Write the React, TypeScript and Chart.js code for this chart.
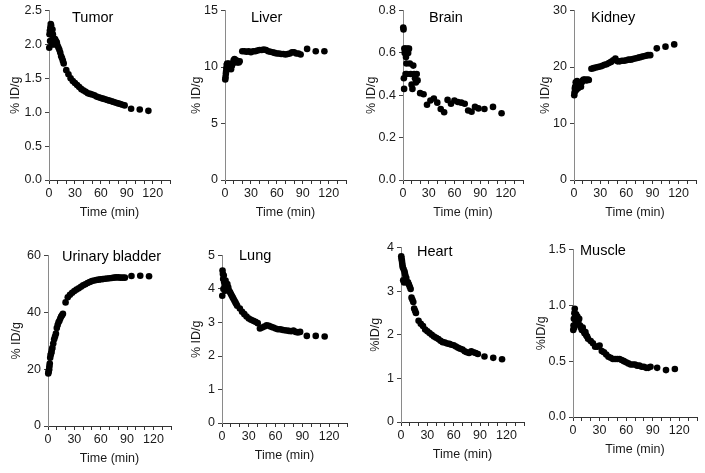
import React, { useEffect, useRef } from "react";
import { Chart, registerables } from "chart.js";

Chart.register(...registerables);

const FONT = '"Liberation Sans", Arial, Helvetica, sans-serif';

// ---------- DATA ----------
const TIME_MAIN = [
  0.3, 0.6, 1, 1.3, 1.6, 2, 2.5, 3, 3.5, 4, 4.5, 5, 6, 7, 8, 9, 10, 11, 12, 13, 14, 15, 16, 17,
  20, 22.5, 25, 27.5, 30, 32.5, 35, 37.5, 40, 42.5, 45, 47.5, 50, 52.5, 55, 57.5, 60, 62.5, 65, 67.5,
  70, 72.5, 75, 77.5, 80, 82.5, 85, 87.5,
  95, 105, 115,
];

const TIME_BRAIN = [
  0.3, 0.6, 1, 1.3, 1.6, 2, 2.5, 3, 3.5, 4, 4.5, 5, 6, 7, 8, 9, 10, 11, 12, 13, 14, 15, 16, 17,
  20, 24, 28, 32, 36, 40, 44, 48, 52, 56, 60, 64, 68, 72, 76, 80, 84, 88,
  95, 105, 115,
];

const TUMOR = [
  1.95, 2.15, 2.2, 2.05, 2.25, 2.3, 2.28, 2.2, 2.0, 2.22, 2.15, 2.1, 2.0, 2.08, 2.05, 2.03, 1.98, 1.95, 1.92, 1.88, 1.83, 1.8, 1.76, 1.72,
  1.62, 1.56, 1.5, 1.46, 1.43, 1.4, 1.37, 1.34, 1.32, 1.3, 1.28, 1.27, 1.26, 1.25, 1.23, 1.22, 1.21, 1.2, 1.19, 1.18,
  1.17, 1.16, 1.15, 1.14, 1.13, 1.12, 1.11, 1.1,
  1.05, 1.04, 1.02,
];

const LIVER = [
  8.9, 9.1, 9.4, 9.6, 9.9, 10.2, 10.3, 10.1, 9.9, 10.2, 10.3, 10.0, 9.9, 9.8, 10.1, 10.3, 10.6, 10.7, 10.5, 10.6, 10.4, 10.5, 10.4, 10.5,
  11.4, 11.4, 11.35, 11.4, 11.3, 11.4, 11.4, 11.45, 11.5, 11.5, 11.55, 11.5, 11.4, 11.35, 11.3, 11.25, 11.2, 11.2, 11.15, 11.15,
  11.1, 11.15, 11.2, 11.3, 11.3, 11.2, 11.2, 11.1,
  11.6, 11.4, 11.4,
];

const BRAIN = [
  0.72, 0.71, 0.48, 0.43, 0.62, 0.6, 0.62, 0.5, 0.58, 0.55, 0.5, 0.62, 0.6, 0.62, 0.55, 0.5, 0.45, 0.43, 0.54, 0.5, 0.48, 0.46, 0.5, 0.47,
  0.41, 0.405, 0.355, 0.375, 0.385, 0.365, 0.335, 0.32, 0.378, 0.36, 0.375, 0.368, 0.365, 0.36, 0.328, 0.322, 0.345, 0.338,
  0.335, 0.345, 0.315,
];

const KIDNEY = [
  15.0, 15.5, 16.2, 16.5, 15.8, 17.3, 16.8, 16.0, 17.5, 16.5, 17.0, 16.3, 16.8, 17.0, 16.5, 17.3, 17.6, 17.8, 17.7, 17.8, 17.6, 17.7, 17.8, 17.7,
  19.7, 19.8, 19.9, 20.0, 20.1, 20.2, 20.4, 20.5, 20.7, 20.9, 21.2, 21.5, 21.0, 21.0, 21.1, 21.1, 21.2, 21.3, 21.3, 21.4,
  21.5, 21.6, 21.7, 21.8, 21.9, 22.0, 22.1, 22.1,
  23.3, 23.6, 24.0,
];

const BLADDER = [
  18.5, 19.0, 19.5, 20.0, 21.0, 22.0, 24.0, 25.0, 25.5, 26.0, 27.0, 27.5, 29.0, 30.5, 31.5, 32.5, 34.5, 35.5, 36.5, 37.0, 37.8, 38.5, 39.0, 39.5,
  43.5, 45.3, 46.2, 46.9, 47.5, 48.0, 48.5, 49.0, 49.5, 49.9, 50.3, 50.7, 51.0, 51.2, 51.4, 51.5, 51.6, 51.7, 51.8, 51.9,
  52.0, 52.1, 52.2, 52.3, 52.3, 52.2, 52.2, 52.2,
  52.8, 52.9, 52.7,
];

const LUNG = [
  3.8, 4.55, 4.45, 4.3, 4.0, 4.4, 4.2, 4.1, 3.95, 4.25, 4.1, 4.0, 4.15, 4.05, 3.95, 3.9, 3.85, 3.8, 3.75, 3.7, 3.65, 3.6, 3.55, 3.5,
  3.42, 3.32, 3.25, 3.18, 3.12, 3.08, 3.05, 3.02, 2.98, 2.82, 2.85, 2.88, 2.92, 2.9, 2.87, 2.85, 2.82, 2.8, 2.8, 2.78,
  2.77, 2.76, 2.75, 2.74, 2.76, 2.72, 2.7, 2.72,
  2.6, 2.6, 2.58,
];

const HEART = [
  3.8, 3.75, 3.7, 3.65, 3.6, 3.55, 3.25, 3.5, 3.2, 3.45, 3.4, 3.35, 3.3, 3.2, 3.2, 3.15, 3.1, 3.05, 2.85, 2.8, 2.75, 2.6, 2.55, 2.5,
  2.32, 2.25, 2.2, 2.12, 2.08, 2.04, 2.0, 1.96, 1.93, 1.9, 1.86, 1.83, 1.82, 1.8, 1.79, 1.77, 1.76, 1.73, 1.7, 1.68,
  1.66, 1.62, 1.6, 1.58, 1.62, 1.6, 1.58, 1.56,
  1.5, 1.47, 1.44,
];

const MUSCLE = [
  0.78, 0.82, 0.88, 0.8, 0.93, 0.97, 0.9, 0.85, 0.92, 0.87, 0.83, 0.9, 0.85, 0.88, 0.82, 0.8, 0.78, 0.8, 0.77, 0.75, 0.76, 0.73, 0.72, 0.7,
  0.68, 0.66, 0.63, 0.63, 0.64, 0.59, 0.58, 0.56, 0.54, 0.53, 0.52, 0.52, 0.52, 0.52, 0.51, 0.5, 0.49, 0.48, 0.47, 0.47,
  0.47, 0.46, 0.46, 0.45, 0.45, 0.44, 0.44, 0.45,
  0.44, 0.42, 0.43,
];

const X_TICKS = [0, 10, 20, 30, 40, 50, 60, 70, 80, 90, 100, 110, 120, 130, 140];
const X_TICK_LABELS = [0, 30, 60, 90, 120];

const TUMOR_Y_TICKS = [0, 0.5, 1.0, 1.5, 2.0, 2.5];
const LIVER_Y_TICKS = [0, 5, 10, 15];
const BRAIN_Y_TICKS = [0, 0.2, 0.4, 0.6, 0.8];
const KIDNEY_Y_TICKS = [0, 10, 20, 30];
const BLADDER_Y_TICKS = [0, 20, 40, 60];
const LUNG_Y_TICKS = [0, 1, 2, 3, 4, 5];
const HEART_Y_TICKS = [0, 1, 2, 3, 4];
const MUSCLE_Y_TICKS = [0, 0.5, 1.0, 1.5];

// ---------- LAYOUT ----------
const AX_W = 45; // y-axis box width
const AX_H = 45; // x-axis box height
const PAD_T = 8;
const PAD_R = 8;

type Panel = {
  name: string;
  yTitle: string;
  xs: number[];
  ys: number[];
  yTicks: number[];
  dec: number;
  box: { l: number; t: number; r: number; b: number };
  titleDx: number;
  titleDy: number;
  yTitleDist: number;
};

const PANELS: Panel[] = [
  { name: "Tumor", yTitle: "% ID/g", xs: TIME_MAIN, ys: TUMOR, yTicks: TUMOR_Y_TICKS, dec: 1,
    box: { l: 49, t: 8, r: 170, b: 180 }, titleDx: 23, titleDy: 7, yTitleDist: 33 },
  { name: "Liver", yTitle: "% ID/g", xs: TIME_MAIN, ys: LIVER, yTicks: LIVER_Y_TICKS, dec: 0,
    box: { l: 225, t: 8, r: 346, b: 180 }, titleDx: 26, titleDy: 7, yTitleDist: 28 },
  { name: "Brain", yTitle: "% ID/g", xs: TIME_BRAIN, ys: BRAIN, yTicks: BRAIN_Y_TICKS, dec: 1,
    box: { l: 403, t: 8, r: 523, b: 180 }, titleDx: 26, titleDy: 7, yTitleDist: 31 },
  { name: "Kidney", yTitle: "% ID/g", xs: TIME_MAIN, ys: KIDNEY, yTicks: KIDNEY_Y_TICKS, dec: 0,
    box: { l: 574, t: 8, r: 696, b: 180 }, titleDx: 17, titleDy: 7, yTitleDist: 28 },
  { name: "Urinary bladder", yTitle: "% ID/g", xs: TIME_MAIN, ys: BLADDER, yTicks: BLADDER_Y_TICKS, dec: 0,
    box: { l: 48, t: 253, r: 171, b: 426 }, titleDx: 14, titleDy: 1, yTitleDist: 31 },
  { name: "Lung", yTitle: "% ID/g", xs: TIME_MAIN, ys: LUNG, yTicks: LUNG_Y_TICKS, dec: 0,
    box: { l: 222, t: 253, r: 347, b: 423 }, titleDx: 17, titleDy: 0, yTitleDist: 25 },
  { name: "Heart", yTitle: "%ID/g", xs: TIME_MAIN, ys: HEART, yTicks: HEART_Y_TICKS, dec: 0,
    box: { l: 401, t: 245, r: 524, b: 422 }, titleDx: 16, titleDy: 4, yTitleDist: 25 },
  { name: "Muscle", yTitle: "%ID/g", xs: TIME_MAIN, ys: MUSCLE, yTicks: MUSCLE_Y_TICKS, dec: 1,
    box: { l: 573, t: 247, r: 697, b: 417 }, titleDx: 7, titleDy: 1, yTitleDist: 31 },
];

const panelTitlePlugin = {
  id: "panelTitle",
  afterDraw(chart: any, _args: any, opts: any) {
    const { ctx, chartArea } = chart;
    ctx.save();
    ctx.font = `14.5px ${FONT}`;
    ctx.fillStyle = "#000";
    ctx.textAlign = "left";
    ctx.textBaseline = "middle";
    ctx.fillText(opts.text, chartArea.left + opts.dx, chartArea.top + opts.dy);
    ctx.restore();
  },
};

function PanelChart({ p }: { p: Panel }) {
  const ref = useRef<HTMLCanvasElement | null>(null);
  const width = p.box.r - p.box.l + AX_W + PAD_R;
  const height = p.box.b - p.box.t + PAD_T + AX_H;
  const left = p.box.l - AX_W;
  const top = p.box.t - PAD_T;

  useEffect(() => {
    if (!ref.current) return;
    const yMax = p.yTicks[p.yTicks.length - 1];
    const yTitleLine = 12.5 * 1.2;
    const chart = new Chart(ref.current, {
      type: "scatter",
      data: {
        datasets: [
          {
            data: p.xs.map((t, i) => ({ x: t, y: p.ys[i] })),
            pointRadius: 3.3,
            pointHoverRadius: 3.3,
            backgroundColor: "#000",
            borderColor: "#000",
            pointBorderWidth: 0,
            borderWidth: 0,
            showLine: false,
            clip: false,
          } as any,
        ],
      },
      options: {
        animation: false,
        responsive: false,
        events: [],
        layout: { padding: { top: PAD_T, right: PAD_R, left: 0, bottom: 0 } },
        plugins: {
          legend: { display: false },
          tooltip: { enabled: false },
          panelTitle: { text: p.name, dx: p.titleDx, dy: p.titleDy },
        } as any,
        scales: {
          x: {
            type: "linear",
            min: 0,
            max: 140,
            afterFit: (s: any) => {
              s.height = AX_H;
            },
            afterBuildTicks: (s: any) => {
              s.ticks = X_TICKS.map((v) => ({ value: v }));
            },
            ticks: {
              autoSkip: false,
              maxRotation: 0,
              color: "#1a1a1a",
              padding: 2,
              font: { family: FONT, size: 12.5 },
              callback: (v: any) => (X_TICK_LABELS.includes(Number(v)) ? String(v) : ""),
            },
            grid: { drawOnChartArea: false, drawTicks: true, tickLength: 4, color: "#333" },
            border: { display: true, color: "#333", width: 1 },
            title: {
              display: true,
              text: "Time (min)",
              color: "#1a1a1a",
              font: { family: FONT, size: 12.5 },
              padding: { top: 0, bottom: 5 },
            },
          },
          y: {
            type: "linear",
            min: 0,
            max: yMax,
            afterFit: (s: any) => {
              s.width = AX_W;
            },
            afterBuildTicks: (s: any) => {
              s.ticks = p.yTicks.map((v) => ({ value: v }));
            },
            ticks: {
              autoSkip: false,
              color: "#1a1a1a",
              padding: 3,
              font: { family: FONT, size: 12.5 },
              callback: (v: any) => Number(v).toFixed(p.dec),
            },
            grid: { drawOnChartArea: false, drawTicks: true, tickLength: 4, color: "#444" },
            border: { display: true, color: "#8a8a8a", width: 1 },
            title: {
              display: true,
              text: p.yTitle,
              color: "#1a1a1a",
              font: { family: FONT, size: 12.5 },
              padding: { top: Math.max(0, AX_W - p.yTitleDist - yTitleLine / 2), bottom: 0 },
            },
          },
        },
      } as any,
      plugins: [panelTitlePlugin as any],
    });
    return () => chart.destroy();
  }, [p]);

  return (
    <canvas
      ref={ref}
      width={width}
      height={height}
      style={{ position: "absolute", left, top, width, height }}
    />
  );
}

export default function App() {
  return (
    <div
      style={{
        position: "absolute",
        left: 0,
        top: 0,
        width: 705,
        height: 473,
        background: "#fff",
        overflow: "hidden",
      }}
    >
      {PANELS.map((p) => (
        <PanelChart key={p.name} p={p} />
      ))}
    </div>
  );
}
